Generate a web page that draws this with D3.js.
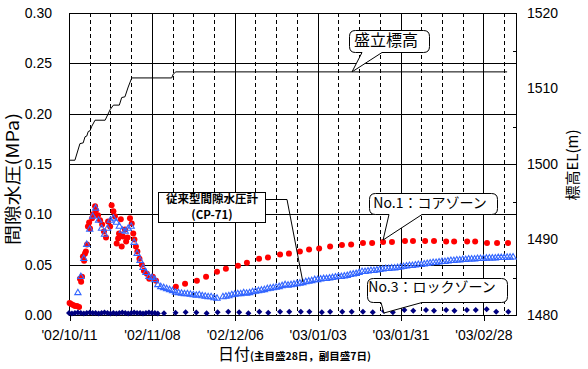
<!DOCTYPE html>
<html>
<head>
<meta charset="utf-8">
<script src="https://cdn.jsdelivr.net/npm/d3@7"></script>
<style>
  body { margin: 0; background: #fff; }
  svg { display: block; }
  .num { font-family: "Liberation Sans", Arial, sans-serif; }
  .jp { font-family: "Noto Sans CJK JP", sans-serif; }
</style>
</head>
<body>
<svg id="chart" width="588" height="369"></svg>
<script>
// ---------------------------------------------------------------------------
// Data (days are counted from 2002/10/11)
const startDate = new Date(Date.UTC(2002, 9, 11));
const endDate = new Date(Date.UTC(2003, 2, 11));
const majorTickLabels = ["'02/10/11", "'02/11/08", "'02/12/06", "'03/01/03", "'03/01/31", "'03/02/28"];
const pressureTicks = [0, 0.05, 0.10, 0.15, 0.20, 0.25, 0.30];
const elevationTicks = [1480, 1490, 1500, 1510, 1520];
const elevationMinorTicks = [1485, 1495, 1505, 1515];

// embankment height (right axis)
const fillDays = [0, 2, 3.7, 4.8, 5.4, 6.0, 6.5, 7.1, 7.7, 8.8, 12.2, 13.9, 15.0, 17.0, 17.8, 18.9, 20.0, 21.2, 34.7, 35.2, 36.1, 148];
const fillLevels = [1500.5, 1500.5, 1502.7, 1502.8, 1503.6, 1503.7, 1504.3, 1504.4, 1505.0, 1505.8, 1505.8, 1507.2, 1507.8, 1507.8, 1508.8, 1508.9, 1510.2, 1511.4, 1511.4, 1511.9, 1512.2, 1512.2];

// No.1 core zone
const coreDays = [0.2, 0.7, 1.4, 2.0, 2.7, 3.4, 3.7, 4.1, 4.4, 4.7, 5.1, 5.4, 5.7, 6.1, 6.4, 6.8, 7.1, 7.8, 8.1, 8.8, 9.1,
  9.8, 10.5, 11.2, 11.8, 12.5, 13.2, 13.9, 14.4, 15.0, 15.5, 16.1, 16.6, 16.9, 17.5, 17.8, 18.2, 18.9, 19.3, 19.8,
  20.6, 21.2, 21.7, 22.1, 22.6, 23.1, 23.8, 24.6, 25.3, 26.3, 27.1, 28.3, 29.4,
  36.1, 39.2, 43.2, 46.3, 50.0, 53.0, 57.1, 60.1, 64.2, 67.2, 71.3, 74.3, 78.0, 81.1, 84.5,
  88.2, 92.2, 95.3, 99.3, 102.4, 106.1, 109.1, 113.5, 116.2, 120.3, 123.3, 127.4, 130.1, 134.5, 137.2, 141.2, 144.6, 148.3];
const coreValues = [0.012, 0.011, 0.010, 0.009, 0.009, 0.008, 0.036, 0.033, 0.038, 0.058, 0.054, 0.061, 0.063, 0.070, 0.088, 0.092, 0.086, 0.096, 0.100, 0.108, 0.104,
  0.099, 0.094, 0.090, 0.083, 0.077, 0.093, 0.088, 0.109, 0.103, 0.098, 0.071, 0.076, 0.081, 0.095, 0.068, 0.078, 0.085, 0.073, 0.077,
  0.096, 0.091, 0.081, 0.075, 0.068, 0.063, 0.056, 0.050, 0.044, 0.041, 0.036, 0.038, 0.034,
  0.028, 0.031, 0.034, 0.038, 0.043, 0.046, 0.049, 0.052, 0.056, 0.057, 0.060, 0.061, 0.063, 0.065, 0.066,
  0.068, 0.0695, 0.070, 0.0715, 0.0715, 0.0725, 0.0725, 0.0735, 0.0735, 0.0735, 0.0735, 0.073, 0.073, 0.073, 0.073, 0.0715, 0.0715, 0.0715];

// conventional piezometer CP-71 [day, MPa]
const cp71Readings = [
  [3, 0.022], [4, 0.038], [5, 0.056], [6, 0.070], [7, 0.085], [8, 0.098], [9, 0.106], [10, 0.094], [11, 0.086], [12, 0.080],
  [13, 0.086], [14, 0.094], [15, 0.096], [16, 0.092], [17, 0.088], [18, 0.084], [19, 0.083], [20, 0.086], [21, 0.088], [22, 0.072],
  [23, 0.061], [24, 0.054], [25, 0.047], [26, 0.042], [27, 0.038], [28, 0.037], [29, 0.035], [30, 0.030], [31, 0.028], [32, 0.027],
  [33, 0.026], [34, 0.025], [35, 0.024], [36, 0.0225], [37, 0.022], [38, 0.0215], [39, 0.021], [40, 0.021], [41, 0.0205], [42, 0.020],
  [43, 0.0195], [44, 0.020], [45, 0.019], [46, 0.0185], [47, 0.018], [48, 0.018], [49, 0.017], [50, 0.0165],
  [52, 0.018], [53, 0.0185], [54, 0.019], [55, 0.020], [56, 0.0205], [57, 0.021], [58, 0.021], [59, 0.022], [60, 0.0215], [61, 0.022],
  [62, 0.023], [63, 0.0235], [64, 0.024], [65, 0.0245], [66, 0.025], [67, 0.026], [68, 0.0265], [69, 0.027], [70, 0.0275], [71, 0.028],
  [72, 0.029], [73, 0.030], [74, 0.0295], [75, 0.030], [76, 0.0305], [77, 0.031], [78, 0.0315], [79, 0.032], [80, 0.033], [81, 0.0335],
  [82, 0.034], [83, 0.035], [84, 0.035], [85, 0.0355], [86, 0.036], [87, 0.036], [88, 0.0365], [89, 0.037], [90, 0.0375], [91, 0.038],
  [92, 0.038], [93, 0.0385], [94, 0.039], [95, 0.040], [96, 0.0405], [97, 0.041], [98, 0.042], [99, 0.043], [100, 0.043], [101, 0.0435],
  [102, 0.044], [103, 0.044], [104, 0.0445], [105, 0.045], [106, 0.0455], [107, 0.046], [108, 0.046], [109, 0.0465], [110, 0.0465], [111, 0.047],
  [112, 0.0475], [113, 0.048], [114, 0.0485], [115, 0.049], [116, 0.049], [117, 0.0495], [118, 0.050], [119, 0.050], [120, 0.0505], [121, 0.051],
  [122, 0.0515], [123, 0.052], [124, 0.052], [125, 0.0525], [126, 0.053], [127, 0.053], [128, 0.0535], [129, 0.054], [130, 0.054], [131, 0.0545],
  [132, 0.0545], [133, 0.055], [134, 0.055], [135, 0.0555], [136, 0.0555], [137, 0.0555], [138, 0.056], [139, 0.056], [140, 0.056], [141, 0.0563],
  [142, 0.0565], [143, 0.0565], [144, 0.0565], [145, 0.057], [146, 0.057], [147, 0.057], [148, 0.0572], [149, 0.0573], [150, 0.0575]
];

// No.3 rock zone [day, MPa]
const rockReadings = [
  [0, 0.002], [1, 0.0015], [2, 0.002], [3, 0.0025], [4, 0.002], [5, 0.0015], [6, 0.002], [7, 0.0025], [8, 0.002], [9, 0.002],
  [10, 0.0015], [11, 0.002], [12, 0.0025], [13, 0.002], [14, 0.0015], [15, 0.002], [16, 0.0015], [17, 0.002], [18, 0.0025], [19, 0.002],
  [20, 0.0015], [21, 0.002], [22, 0.0025], [23, 0.002], [24, 0.002], [25, 0.0015], [26, 0.002], [27, 0.0025], [28, 0.002], [29, 0.002],
  [30, 0.0015], [32.1, 0.0017], [36, 0.0023], [39.4, 0.0027], [43, 0.0025], [46.5, 0.0017], [50.2, 0.0027], [53.8, 0.0033], [57.5, 0.0027],
  [60.6, 0.0017], [64.3, 0.0033], [67.3, 0.0023], [71.3, 0.0033], [74.4, 0.0033], [78.3, 0.0033], [81.2, 0.0033], [85.4, 0.0027],
  [88.2, 0.0033], [92.3, 0.0033], [95.5, 0.0033], [99.3, 0.0033], [102.6, 0.0027], [106.4, 0.004], [109.4, 0.0027], [113.3, 0.005],
  [116.3, 0.0043], [120.6, 0.005], [123.3, 0.0043], [127.4, 0.005], [130.2, 0.0043], [134.4, 0.005], [137.4, 0.005], [141.1, 0.0057],
  [144.3, 0.0033], [148.4, 0.0033]
];

// ---------------------------------------------------------------------------
const svg = d3.select('#chart');
const plot = { left: 69, right: 516, top: 13, bottom: 315 };

const x = d3.scaleUtc().domain([startDate, endDate]).range([plot.left, plot.right]);
const y = d3.scaleLinear().domain([0, 0.30]).range([plot.bottom, plot.top]);
const yEL = d3.scaleLinear().domain([1480, 1520]).range([plot.bottom, plot.top]);

const dayDate = (d) => new Date(startDate.getTime() + d * 864e5);
const px = (v) => Math.round(v) + 0.5;

// grid -----------------------------------------------------------------------
const grid = svg.append('g').attr('shape-rendering', 'crispEdges').attr('stroke', '#000');

const weeks = d3.utcDay.range(startDate, endDate, 7);
grid.selectAll('line.v')
    .data(weeks)
    .join('line')
    .attr('x1', (d) => px(x(d)))
    .attr('x2', (d) => px(x(d)))
    .attr('y1', plot.top)
    .attr('y2', plot.bottom)
    .attr('stroke-dasharray', (d, i) => (i % 4 === 0 ? null : '4,3'));

grid.selectAll('line.h')
    .data(pressureTicks)
    .join('line')
    .attr('x1', plot.left)
    .attr('x2', plot.right + 1)
    .attr('y1', (d) => px(y(d)))
    .attr('y2', (d) => px(y(d)));

grid.append('line')
    .attr('x1', px(plot.right)).attr('x2', px(plot.right))
    .attr('y1', plot.top).attr('y2', plot.bottom + 1);

// axes ------------------------------------------------------------------------
const majorDates = weeks.filter((d, i) => i % 4 === 0);
const xAxis = svg.append('g')
    .attr('transform', `translate(0,${px(plot.bottom)})`)
    .call(d3.axisBottom(x).tickValues(majorDates).tickSize(5).tickPadding(10)
        .tickFormat((d, i) => majorTickLabels[i]));
xAxis.select('.domain').remove();
xAxis.selectAll('line').attr('shape-rendering', 'crispEdges').attr('transform', 'translate(0.5,0)');

const yAxis = svg.append('g')
    .attr('transform', `translate(${plot.left},0)`)
    .call(d3.axisLeft(y).tickValues(pressureTicks).tickSize(0).tickPadding(17).tickFormat(d3.format('.2f')));
yAxis.select('.domain').remove();

const elAxis = svg.append('g')
    .attr('transform', `translate(${plot.right},0)`)
    .call(d3.axisRight(yEL).tickValues(elevationTicks).tickSize(0).tickPadding(11).tickFormat(d3.format('d')));
elAxis.select('.domain').remove();

const elMinor = svg.append('g')
    .attr('transform', `translate(${px(plot.right)},0)`)
    .call(d3.axisRight(yEL).tickValues(elevationMinorTicks).tickSize(-4).tickFormat(''));
elMinor.select('.domain').remove();
elMinor.selectAll('line').attr('shape-rendering', 'crispEdges').attr('transform', 'translate(0,0.5)');

svg.selectAll('.tick text')
    .attr('class', 'num')
    .attr('font-size', 14)
    .attr('fill', '#000');

// axis titles
svg.append('text')
    .attr('class', 'jp')
    .attr('transform', 'translate(19,179) rotate(-90)')
    .attr('text-anchor', 'middle')
    .attr('font-size', 17)
    .attr('textLength', 132)
    .attr('lengthAdjust', 'spacingAndGlyphs')
    .text('間隙水圧(MPa)');

svg.append('text')
    .attr('class', 'jp')
    .attr('transform', 'translate(578,165) rotate(-90)')
    .attr('text-anchor', 'middle')
    .attr('font-size', 15)
    .text('標高EL(m)');

const xTitle = svg.append('text').attr('class', 'jp').attr('x', 218).attr('y', 360);
xTitle.append('tspan').attr('font-size', 16).text('日付');
xTitle.append('tspan').attr('font-size', 10.5).attr('font-weight', 'bold').text('(主目盛28日，副目盛7日)');

// series ------------------------------------------------------------------
svg.append('path')
    .datum(fillDays.map((d, i) => ({ day: d, el: fillLevels[i] })))
    .attr('fill', 'none')
    .attr('stroke', '#000')
    .attr('stroke-width', 1)
    .attr('d', d3.line().x((d) => x(dayDate(d.day))).y((d) => yEL(d.el)));

svg.append('g')
    .selectAll('circle')
    .data(coreDays.map((d, i) => ({ day: d, v: coreValues[i] })))
    .join('circle')
    .attr('cx', (d) => x(dayDate(d.day)))
    .attr('cy', (d) => y(d.v))
    .attr('r', 3)
    .attr('fill', '#ff0000');

const tri = d3.symbol(d3.symbolTriangle, 17);
svg.append('g')
    .selectAll('path')
    .data(cp71Readings)
    .join('path')
    .attr('transform', (d) => `translate(${x(dayDate(d[0]))},${y(d[1])})`)
    .attr('d', tri)
    .attr('fill', 'none')
    .attr('stroke', '#3366ff')
    .attr('stroke-width', 1.1);

svg.append('g')
    .selectAll('path')
    .data(rockReadings)
    .join('path')
    .attr('transform', (d) => `translate(${x(dayDate(d[0]))},${y(d[1])})`)
    .attr('d', 'M0,-3L3,0L0,3L-3,0Z')
    .attr('fill', '#000080');

// callouts -------------------------------------------------------------------
function calloutPath(b, tx, ty) {
    const r = 6;
    return `M${b.x0 + r},${b.y0}H${b.x1 - r}Q${b.x1},${b.y0} ${b.x1},${b.y0 + r}`
        + `V${b.y1 - r}Q${b.x1},${b.y1} ${b.x1 - r},${b.y1}H${b.b1}L${tx},${ty}L${b.b0},${b.y1}`
        + `H${b.x0 + r}Q${b.x0},${b.y1} ${b.x0},${b.y1 - r}V${b.y0 + r}Q${b.x0},${b.y0} ${b.x0 + r},${b.y0}Z`;
}

const callouts = [
    { text: '盛立標高', size: 16, x0: 349.5, y0: 30.5, x1: 429.5, y1: 52.5, b0: 362, b1: 382,
        tip: [x(dayDate(95.6)), yEL(1512.2)], tx: 386, ty: 45.5 },
    { text: 'No.1：コアゾーン', size: 14, x0: 369.5, y0: 193.5, x1: 497.5, y1: 214.5, b0: 389, b1: 422,
        tip: [x(dayDate(106.1)), y(0.0745)], tx: 430, ty: 208 },
    { text: 'No.3：ロックゾーン', size: 14, x0: 367.5, y0: 278.5, x1: 507.5, y1: 302.5, b0: 381, b1: 422,
        tip: [x(dayDate(106.4)), y(0.002)], tx: 432, ty: 291.5 },
];

const cg = svg.append('g');
callouts.forEach((c) => {
    cg.append('path')
        .attr('d', calloutPath(c, c.tip[0], c.tip[1]))
        .attr('fill', '#fff')
        .attr('stroke', '#000')
        .attr('stroke-width', 1);
    cg.append('text')
        .attr('class', 'jp')
        .attr('x', c.tx)
        .attr('y', c.ty)
        .attr('text-anchor', 'middle')
        .attr('font-size', c.size)
        .text(c.text);
});

// CP-71 label box with leader line
cg.append('polyline')
    .attr('points', `266,199.5 287,199.5 ${x(dayDate(79))},${y(0.0328)}`)
    .attr('fill', 'none')
    .attr('stroke', '#000');
cg.append('rect')
    .attr('x', 158.5).attr('y', 192.5).attr('width', 107).attr('height', 30)
    .attr('fill', '#fff').attr('stroke', '#000');
cg.append('text')
    .attr('class', 'jp')
    .attr('x', 212).attr('y', 202.5)
    .attr('text-anchor', 'middle')
    .attr('font-size', 11.5).attr('font-weight', 'bold')
    .text('従来型間隙水圧計');
cg.append('text')
    .attr('class', 'jp')
    .attr('x', 212).attr('y', 219)
    .attr('text-anchor', 'middle')
    .attr('font-size', 11.5).attr('font-weight', 'bold')
    .text('(CP-71)');
</script>
</body>
</html>
